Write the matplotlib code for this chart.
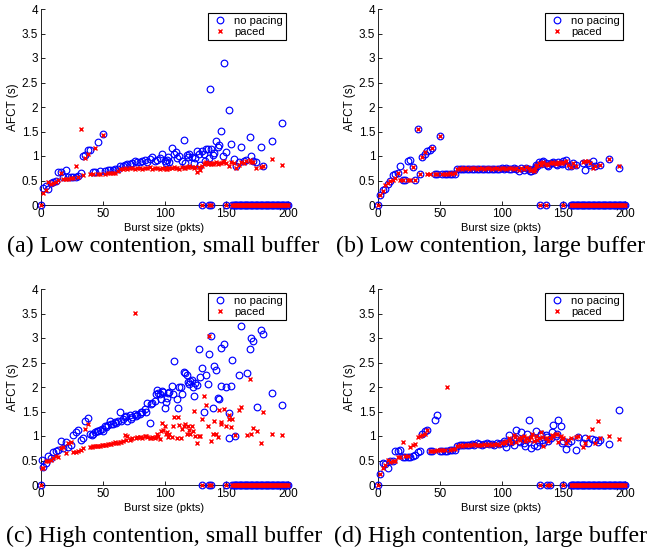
import matplotlib
matplotlib.use("Agg")
import matplotlib.pyplot as plt

# ---------------- data ----------------
# shared burst-size grid (pkts)
burst_grid = [2, 4, 6, 8, 10, 12, 14, 16, 18, 20, 22, 24, 26, 28, 30,
              32, 34, 36, 38, 40, 42, 44, 46, 48, 50, 52, 54, 56, 58, 60,
              62, 64, 66, 68, 70, 72, 74, 76, 78, 80, 82, 84, 86, 88, 90,
              92, 94, 96, 98, 100, 102, 104, 106, 108, 110, 112, 114, 116, 118, 120,
              122, 124, 126, 128, 130, 132, 134, 136, 138, 140, 142, 144, 146, 148, 150,
              152, 154]

# (a) Low contention, small buffer
a_nopace = [0.35, 0.38, 0.33, 0.45, 0.46, 0.50, 0.68, 0.67, 0.57, 0.71,
            0.57, 0.57, 0.58, 0.58, 0.60, 0.66, 1.00, 1.03, 1.12, 1.13,
            0.67, 0.68, 1.29, 0.69, 1.45, 0.70, 0.71, 0.71, 0.72, 0.73,
            0.74, 0.79, 0.80, 0.82, 0.83, 0.84, 0.86, 0.90, 0.87, 0.88,
            0.90, 0.92, 0.88, 0.93, 0.97, 0.90, 0.92, 0.95, 1.05, 0.90,
            0.92, 0.88, 1.17, 1.05, 0.95, 1.00, 0.90, 1.33, 1.02, 1.04,
            0.98, 0.85, 1.10, 1.05, 1.10, 1.05, 1.15, 0.95, 1.15, 1.07,
            1.30, 1.22, 1.52, 2.90, 1.08, 1.93, 1.24]
a_paced = [0.25, 0.30, 0.47, 0.42, 0.45, 0.47, 0.52, 0.65, 0.53, 0.54,
           0.54, 0.55, 0.55, 0.80, 0.57, 1.55, 0.62, 0.95, 1.05, 0.63,
           0.63, 1.17, 0.64, 0.64, 1.42, 0.64, 0.65, 0.65, 0.66, 0.66,
           0.70, 0.74, 0.74, 0.75, 0.74, 0.75, 0.76, 0.74, 0.75, 0.76,
           0.74, 0.76, 0.75, 0.77, 0.74, 0.76, 0.75, 0.74, 0.76, 0.75,
           0.74, 0.76, 0.75, 0.77, 0.76, 0.74, 0.78, 0.75, 0.77, 0.80,
           0.78, 0.75, 0.68, 0.78, 0.80, 0.84, 0.88, 0.86, 0.84, 0.85,
           0.87, 0.86, 0.85, 0.90, 0.86, 0.80, 0.88]
a_extra_x = [101, 103, 109, 117, 119, 125, 129, 133, 135, 137, 139, 143, 147,
             156, 158, 160, 162, 164, 166, 169, 170, 172, 174, 178, 180, 187, 195]
a_extra_nopace = [0.85, 0.97, 1.08, 0.85, 0.98, 0.95, 0.82, 0.90, 1.15, 2.36, 1.02, 1.18, 1.00,
                  0.93, 0.80, 0.87, 1.18, 0.90, 0.92, 1.38, 1.00, 0.90, 0.88, 1.18, 0.80, 1.30, 1.68]
a_extra_paced = [0.74, 0.76, 0.75, 0.76, 0.78, 0.77, 0.72, 0.86, 0.84, 0.85, 0.83, 0.84, 0.88,
                 0.86, 0.75, 0.82, 0.88, 0.85, 0.90, 0.92, 0.88, 0.87, 0.75, 0.78, 0.80, 0.93, 0.82]
a_fail_x = [0, 130, 136, 138, 150, 155, 156, 157, 158, 159, 160, 161, 162, 163, 164,
            165, 166, 167, 168, 169, 170, 171, 172, 173, 174, 175, 176, 177, 178, 179,
            180, 181, 182, 183, 184, 185, 186, 187, 188, 189, 190, 191, 192, 193, 194,
            195, 196, 197, 198, 199, 200]

# (b) Low contention, large buffer
b_nopace = [0.20, 0.30, 0.33, 0.42, 0.50, 0.62, 0.63, 0.66, 0.80, 0.52,
            0.52, 0.90, 0.92, 0.77, 0.52, 1.55, 0.63, 0.97, 1.05, 1.10,
            1.13, 1.16, 0.63, 0.63, 1.41, 0.63, 0.63, 0.63, 0.63, 0.63,
            0.64, 0.73, 0.74, 0.74, 0.74, 0.74, 0.74, 0.73, 0.74, 0.74,
            0.74, 0.74, 0.73, 0.74, 0.74, 0.74, 0.73, 0.74, 0.74, 0.75,
            0.74, 0.75, 0.74, 0.73, 0.75, 0.74, 0.70, 0.75, 0.72, 0.76,
            0.74, 0.70, 0.72, 0.82, 0.87, 0.84, 0.90, 0.86, 0.80, 0.85,
            0.88, 0.83, 0.88, 0.86, 0.90, 0.92, 0.80]
b_paced = [0.20, 0.28, 0.40, 0.45, 0.50, 0.52, 0.55, 0.65, 0.52, 0.52,
           0.70, 0.52, 0.52, 0.78, 0.52, 1.55, 0.63, 0.98, 1.08, 0.63,
           0.63, 1.16, 0.63, 0.64, 1.41, 0.64, 0.64, 0.64, 0.65, 0.64,
           0.65, 0.74, 0.75, 0.74, 0.75, 0.75, 0.74, 0.75, 0.75, 0.74,
           0.75, 0.75, 0.74, 0.75, 0.75, 0.74, 0.75, 0.75, 0.74, 0.75,
           0.75, 0.74, 0.75, 0.75, 0.74, 0.75, 0.72, 0.76, 0.74, 0.78,
           0.76, 0.72, 0.70, 0.80, 0.85, 0.82, 0.88, 0.84, 0.82, 0.86,
           0.85, 0.84, 0.87, 0.85, 0.88, 0.90, 0.82]
b_extra_x = [123, 127, 129, 133, 137, 141, 145, 149,
             156, 158, 160, 166, 168, 170, 172, 174, 176, 180, 187, 195]
b_extra_nopace = [0.70, 0.75, 0.80, 0.88, 0.82, 0.86, 0.82, 0.84,
                  0.80, 0.85, 0.82, 0.86, 0.71, 0.85, 0.82, 0.90, 0.80, 0.82, 0.93, 0.76]
b_extra_paced = [0.72, 0.74, 0.82, 0.86, 0.84, 0.88, 0.85, 0.86,
                 0.78, 0.85, 0.80, 0.88, 0.90, 0.90, 0.85, 0.75, 0.80, 0.82, 0.93, 0.80]
b_fail_x = [0, 131, 136, 150, 156, 157, 158, 159, 160, 161, 162, 163, 164,
            165, 166, 167, 168, 169, 170, 171, 172, 173, 174, 175, 176, 177, 178, 179,
            180, 181, 182, 183, 184, 185, 186, 187, 188, 189, 190, 191, 192, 193, 194,
            195, 196, 197, 198, 199, 200]

# (c) High contention, small buffer
c_nopace = [0.37, 0.45, 0.60, 0.55, 0.67, 0.70, 0.72, 0.90, 0.75, 0.88,
            0.78, 0.82, 1.02, 1.08, 1.12, 0.92, 0.95, 1.31, 1.37, 1.05,
            1.05, 1.08, 1.10, 1.12, 1.10, 1.20, 1.22, 1.31, 1.25, 1.28,
            1.30, 1.48, 1.35, 1.38, 1.30, 1.42, 1.38, 1.45, 1.42, 1.45,
            1.48, 1.55, 1.68, 1.27, 1.68, 1.72, 1.94, 1.85, 1.92, 1.57,
            1.78, 1.90, 2.03, 2.53, 1.75, 2.00, 1.85, 2.30, 2.25, 2.07,
            2.15, 1.82, 2.05, 2.77, 2.38, 1.50, 2.25, 2.68, 3.05, 2.42,
            2.35, 1.76, 2.80, 2.88, 1.99, 1.46, 2.02]
c_paced = [0.35, 0.48, 0.50, 0.52, 0.55, 0.60, 0.58, 0.75, 0.78, 0.65,
           0.85, 0.87, 0.68, 0.68, 0.70, 0.72, 0.75, 1.15, 1.25, 0.78,
           0.80, 0.80, 0.80, 0.80, 0.82, 0.82, 0.83, 0.84, 0.85, 0.87,
           0.86, 0.88, 0.90, 1.03, 1.00, 0.92, 0.95, 3.52, 0.98, 0.97,
           0.95, 1.00, 0.98, 0.96, 0.97, 0.95, 1.05, 0.93, 1.27, 1.20,
           1.08, 1.05, 0.98, 1.38, 0.95, 1.23, 1.14, 1.20, 1.05, 1.13,
           1.20, 1.51, 0.85, 0.99, 1.34, 1.82, 1.64, 3.05, 0.89, 1.30,
           1.05, 1.53, 1.29, 1.55, 1.20, 1.42, 1.19]
c_extra_x = [1, 41, 45, 49, 53, 57, 61, 65, 69, 73, 77, 81, 85, 89, 93, 95, 97, 99,
             101, 103, 107, 111, 113, 117, 119, 121, 123, 125, 129, 135, 139, 143, 146, 152,
             155, 157, 160, 162, 167, 169, 170, 172, 175, 178, 180, 187, 195]
c_extra_nopace = [0.52, 1.02, 1.10, 1.15, 1.18, 1.25, 1.27, 1.30, 1.40, 1.35, 1.40, 1.50, 1.50,
                  1.65, 1.85, 1.88, 1.75, 1.90, 1.70, 1.88, 1.85, 1.58, 2.00, 2.28, 2.10, 2.12,
                  2.00, 2.08, 2.20, 2.06, 1.57, 1.78, 2.02, 0.95,
                  2.55, 1.00, 2.24, 3.25, 2.29, 2.77, 3.00, 2.93, 1.60, 3.16, 3.08, 1.87, 1.64]
c_extra_paced = [0.35, 0.78, 0.80, 0.81, 0.82, 0.84, 0.85, 0.88, 0.92, 0.93, 0.95, 0.98, 1.00,
                 0.95, 0.98, 1.00, 1.10, 1.12, 1.05, 0.98, 1.20, 1.38, 0.95, 1.25, 1.20, 1.05,
                 1.10, 1.00, 1.00, 1.20, 1.05, 0.98, 1.25, 1.35,
                 1.35, 1.03, 1.53, 1.60, 1.02, 2.17, 1.05, 1.17, 1.10, 0.85, 1.50, 1.05, 1.02]
c_fail_x = [0, 130, 136, 138, 150, 155, 156, 157, 158, 159, 160, 161, 162, 163, 164,
            165, 166, 167, 168, 169, 170, 171, 172, 173, 174, 175, 176, 177, 178, 179,
            180, 181, 182, 183, 184, 185, 186, 187, 188, 189, 190, 191, 192, 193, 194,
            195, 196, 197, 198, 199, 200]

# (d) High contention, large buffer
d_nopace = [0.22, 0.45, 0.42, 0.35, 0.48, 0.50, 0.70, 0.70, 0.72, 0.57,
            0.58, 0.58, 0.58, 0.60, 0.62, 0.68, 0.70, 1.05, 1.10, 1.12,
            0.70, 0.70, 1.32, 1.42, 0.70, 0.70, 0.70, 0.70, 0.71, 0.71,
            0.72, 0.80, 0.81, 0.81, 0.82, 0.82, 0.82, 0.83, 0.82, 0.86,
            0.83, 0.82, 0.84, 0.85, 0.83, 0.84, 0.82, 0.85, 0.83, 0.86,
            0.90, 0.78, 1.02, 0.88, 0.82, 1.12, 0.90, 1.08, 0.85, 0.92,
            1.33, 0.76, 0.82, 1.10, 0.88, 1.05, 0.85, 1.02, 0.90, 0.95,
            1.23, 1.00, 1.32, 1.20, 0.90, 0.73, 0.85]
d_paced = [0.22, 0.35, 0.40, 0.52, 0.47, 0.48, 0.50, 0.57, 0.58, 0.88,
           0.60, 0.60, 0.78, 0.82, 0.83, 0.98, 1.00, 1.02, 1.05, 1.12,
           0.70, 0.70, 0.70, 0.71, 0.71, 0.71, 0.72, 2.00, 0.72, 0.73,
           0.74, 0.80, 0.81, 0.80, 0.81, 0.81, 0.82, 0.81, 0.83, 0.82,
           0.82, 0.81, 0.83, 0.82, 0.83, 0.82, 0.83, 0.84, 0.82, 0.85,
           0.88, 0.90, 0.95, 0.85, 1.02, 0.88, 0.95, 0.98, 1.00, 0.95,
           0.92, 0.98, 0.90, 1.00, 0.95, 1.08, 0.80, 0.95, 0.90, 0.95,
           1.00, 1.05, 0.88, 1.00, 0.95, 0.85, 0.92]
d_extra_x = [103, 107, 111, 115, 119, 121, 125, 129, 133, 137, 141, 145, 149,
             156, 160, 162, 166, 168, 170, 173, 176, 178, 180, 187, 195]
d_extra_nopace = [0.85, 0.88, 0.95, 0.88, 0.80, 1.05, 0.95, 0.80, 0.92, 0.98, 1.08, 1.05, 0.85,
                  0.90, 0.72, 0.97, 0.85, 0.95, 0.85, 0.93, 0.92, 0.88, 0.92, 0.84, 1.54]
d_extra_paced = [0.85, 0.92, 0.98, 0.92, 0.90, 0.95, 1.05, 0.92, 0.98, 0.95, 1.02, 1.05, 0.95,
                 0.95, 0.97, 1.00, 0.78, 0.85, 0.98, 1.15, 0.85, 1.31, 0.95, 1.00, 0.93]
d_fail_x = [0, 131, 137, 139, 150, 156, 157, 158, 159, 160, 161, 162, 163, 164,
            165, 166, 167, 168, 169, 170, 171, 172, 173, 174, 175, 176, 177, 178, 179,
            180, 181, 182, 183, 184, 185, 186, 187, 188, 189, 190, 191, 192, 193, 194,
            195, 196, 197, 198, 199, 200]

captions = ["(a) Low contention, small buffer", "(b) Low contention, large buffer",
            "(c) High contention, small buffer", "(d) High contention, large buffer"]
x_ticks = [0, 50, 100, 150, 200]
y_ticks = [0, 0.5, 1, 1.5, 2, 2.5, 3, 3.5, 4]
y_tick_labels = ["0", "0.5", "1", "1.5", "2", "2.5", "3", "3.5", "4"]
series_labels = ["no pacing", "paced"]

panels = [
    (a_nopace, a_paced, a_extra_x, a_extra_nopace, a_extra_paced, a_fail_x),
    (b_nopace, b_paced, b_extra_x, b_extra_nopace, b_extra_paced, b_fail_x),
    (c_nopace, c_paced, c_extra_x, c_extra_nopace, c_extra_paced, c_fail_x),
    (d_nopace, d_paced, d_extra_x, d_extra_nopace, d_extra_paced, d_fail_x),
]

# ---------------- figure ----------------
W, H = 655, 548
fig = plt.figure(figsize=(W / 100, H / 100), dpi=100)
sans = ["Liberation Sans", "DejaVu Sans"]
serif = ["Liberation Serif", "DejaVu Serif"]

ax_px = [(41, 9), (378, 9), (41, 289), (378, 289)]  # left, top in pixels
ax_w, ax_h = 247, 196
cap_px = [(163, 246), (491, 246), (164, 536), (491, 536)]
fs = 8.5

for i, (np_y, p_y, ex_x, ex_np, ex_p, fail_x) in enumerate(panels):
    L, T = ax_px[i]
    ax = fig.add_axes([L / W, 1 - (T + ax_h) / H, ax_w / W, ax_h / H])
    blue_x = list(burst_grid) + list(ex_x) + list(fail_x)
    blue_y = list(np_y) + list(ex_np) + [0.0] * len(fail_x)
    red_x = list(burst_grid) + list(ex_x) + list(fail_x)
    red_y = list(p_y) + list(ex_p) + [0.0] * len(fail_x)
    ax.plot(blue_x, blue_y, linestyle="none", marker="o", markersize=4.8,
            markerfacecolor="none", markeredgecolor="#0000ff", markeredgewidth=0.85,
            label=series_labels[0], clip_on=False, zorder=3)
    ax.plot(red_x, red_y, linestyle="none", marker="x", markersize=3.0,
            color="#ff0000", markeredgewidth=1.0,
            label=series_labels[1], clip_on=False, zorder=4)
    ax.set_xlim(0, 200)
    ax.set_ylim(0, 4)
    ax.set_xticks(x_ticks)
    ax.set_xticklabels([str(t) for t in x_ticks], family=sans, fontsize=fs)
    ax.set_yticks(y_ticks)
    ax.set_yticklabels(y_tick_labels, family=sans, fontsize=fs)
    ax.tick_params(direction="in", length=3, width=0.6, pad=2)
    for s in ["top", "right"]:
        ax.spines[s].set_visible(False)
    for s in ["left", "bottom"]:
        ax.spines[s].set_linewidth(0.6)
    ax.set_xlabel("Burst size (pkts)", family=sans, fontsize=fs - 0.5, labelpad=2.5)
    ax.set_ylabel("AFCT (s)", family=sans, fontsize=fs, labelpad=2)
    leg = ax.legend(loc="upper right", bbox_to_anchor=(0.992, 0.98),
                    borderaxespad=0, prop={"family": sans, "size": 8},
                    fancybox=False, edgecolor="black", framealpha=1,
                    borderpad=0.25, labelspacing=0.12, handlelength=1.6,
                    handletextpad=0.5)
    leg.get_frame().set_linewidth(0.8)
    cx, cy = cap_px[i]
    fig.text(cx / W, 1 - cy / H, captions[i], ha="center", va="center",
             family=serif, fontsize=17.3)

fig.savefig("out.png", dpi=100)
